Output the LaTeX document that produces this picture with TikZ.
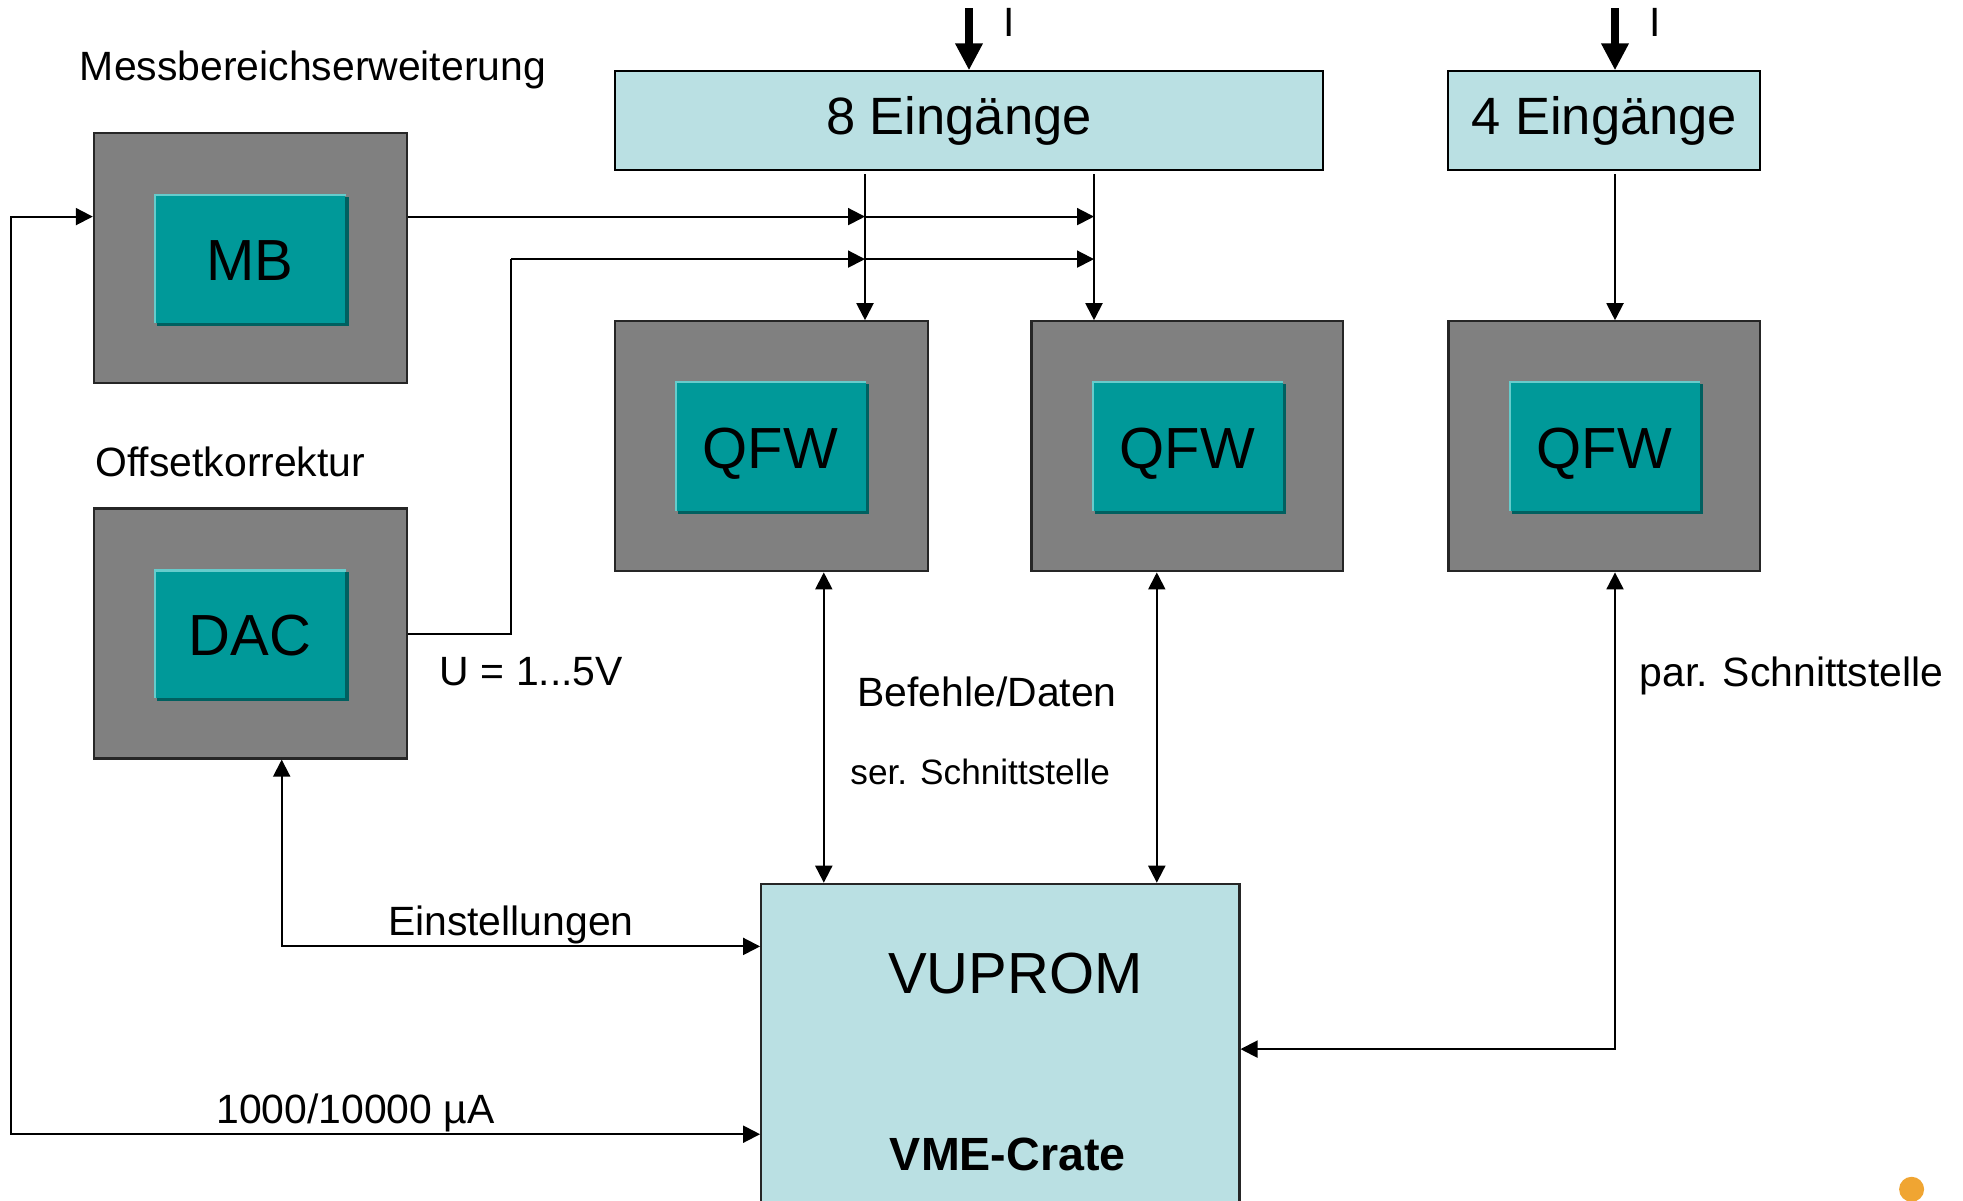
\documentclass[tikz,border=0pt]{standalone}
\usepackage{fontspec}
\setmainfont{Liberation Sans}
\usetikzlibrary{arrows.meta}
\definecolor{boxgray}{RGB}{128,128,128}
\definecolor{tealmain}{RGB}{0,153,153}
\definecolor{tealhi}{RGB}{102,204,204}
\definecolor{tealsh}{RGB}{0,96,96}
\definecolor{lcyan}{RGB}{186,224,227}
\definecolor{dotorange}{RGB}{240,165,50}
\newcommand\tealdeco[1]{%
  \fill[tealsh] ([shift={(3,3)}]#1.north west) rectangle ([shift={(3,3)}]#1.south east);
}
\newcommand\tealhilite[1]{%
  \draw[tealhi, line width=2.2pt] ([shift={(1.1,0)}]#1.south west) -- ([shift={(1.1,1.1)}]#1.north west) -- ([shift={(0,1.1)}]#1.north east);
}
\begin{document}
\begin{tikzpicture}[x=1pt,y=-1pt,
  outerbox/.style={draw=black!85, line width=2.2pt, fill=boxgray, minimum width=313pt, minimum height=250pt, inner sep=0pt},
  innerbox/.style={fill=tealmain, minimum width=191pt, minimum height=129pt, inner sep=0pt, text height=44pt, text depth=1pt, font=\fontsize{58}{64}\selectfont},
  qfwbox/.style={innerbox, minimum height=130pt, text height=47pt, text depth=1pt},
  inbox/.style={draw=black, line width=2pt, fill=lcyan, inner sep=0pt, minimum height=99pt, font=\fontsize{52.5}{60}\selectfont},
  conn/.style={line width=2pt, -{Triangle[length=17pt,width=17pt]}},
  biconn/.style={line width=2pt, {Triangle[length=17pt,width=17pt]}-{Triangle[length=17pt,width=17pt]}},
  plain/.style={line width=2pt},
  thickarrow/.style={line width=8pt, -{Triangle[length=27pt,width=26pt]}},
  lbl/.style={font=\fontsize{40.9}{48}\selectfont, inner sep=0pt},
  smalllbl/.style={font=\fontsize{35.2}{42}\selectfont, inner sep=0pt}
]
\clip (0,0) rectangle (1963,1200);
\fill[white] (0,0) rectangle (1963,1200);

% outer grey boxes
\node[outerbox] (mb) at (250.4,257.9) {};
\node[outerbox] (dac) at (250.4,633.5) {};
\node[outerbox] (q1) at (771.2,446.3) {};
\node[outerbox, minimum width=311.7pt] (q2) at (1187.4,446.3) {};
\node[outerbox, minimum width=311.8pt] (q3) at (1604.3,446.3) {};

% inner teal boxes: shadows first
\path (249.8,258.5) coordinate (cmbi) (249.8,633.5) coordinate (cdaci)
      (770.5,445.7) coordinate (cq1i) (1187.4,445.7) coordinate (cq2i) (1604.3,445.7) coordinate (cq3i);
\node[innerbox, fill=none] (mbs) at (cmbi) {};
\node[innerbox, fill=none, minimum height=128pt] (dacs) at (cdaci) {};
\node[qfwbox, fill=none] (q1s) at (cq1i) {};
\node[qfwbox, fill=none] (q2s) at (cq2i) {};
\node[qfwbox, fill=none] (q3s) at (cq3i) {};
\tealdeco{mbs}\tealdeco{dacs}\tealdeco{q1s}\tealdeco{q2s}\tealdeco{q3s}
\node[innerbox] (mbi) at (cmbi) {MB};
\node[innerbox, minimum height=128pt] (daci) at (cdaci) {DAC};
\node[qfwbox] (q1i) at (cq1i) {QFW};
\node[qfwbox] (q2i) at (cq2i) {QFW};
\node[qfwbox] (q3i) at (cq3i) {QFW};
\tealhilite{mbi}\tealhilite{daci}\tealhilite{q1i}\tealhilite{q2i}\tealhilite{q3i}

% input boxes
\node[inbox, minimum width=708.6pt] (e8) at (969,120.8) {\hspace*{-20pt}8 Eingänge};
\node[inbox, minimum width=311.8pt] (e4) at (1604.3,120.8) {4 Eingänge};

% VUPROM
\node[draw=black!85, line width=2.2pt, fill=lcyan, minimum width=478.2pt, minimum height=340pt, inner sep=0pt] (vu) at (1000.3,1053.8) {};
\node[font=\fontsize{58}{64}\selectfont, inner sep=0pt] (vut) at (1015.3,973.5) {VUPROM};
\node[font=\fontsize{46.6}{54}\selectfont\bfseries, inner sep=0pt] (vme) at (1007.8,1154) {VME-Crate};

% labels
\node[lbl] (lmess) at (313,70) {Messbereichserweiterung};
\node[lbl] (loff) at (230.3,461.5) {Offsetkorrektur};
\node[lbl] (lu) at (531.4,672) {U = 1...5V};
\node[lbl] (lbef) at (987.1,692) {Befehle/Daten};
\node[smalllbl] (lser) at (980.2,772) {ser. Schnittstelle};
\node[lbl] (lpar) at (1791.5,676) {par. Schnittstelle};
\node[lbl] (lein) at (510.8,925) {Einstellungen};
\node[lbl] (lmu) at (355.5,1113) {1000/10000 µA};
\node[lbl] (li8) at (1009,22.5) {I};
\node[lbl] (li4) at (1655,22.5) {I};

% coordinates for connectors
\coordinate (i8) at (969,8);
\coordinate (i4) at (1615,8);
\coordinate (t1) at (865,174);
\coordinate (t2) at (1094,174);
\coordinate (t4) at (1615,174);
\coordinate (h1) at (0,216.6);
\coordinate (a1) at (865,216.6);
\coordinate (b1) at (1094,216.6);
\coordinate (a2) at (865,259.1);
\coordinate (b2) at (1094,259.1);
\coordinate (ud) at (510.8,633.5);
\coordinate (uu) at (510.8,259.1);
\coordinate (x1) at (823.8,0);
\coordinate (x2) at (1156.8,0);
\coordinate (p3) at (1615,1049.1);
\coordinate (pd) at (281.7,946.4);
\coordinate (ml) at (11.3,216.6);
\coordinate (mb2) at (11.3,1134.2);

% thick input arrows
\draw[thickarrow] (i8) -- (i8 |- e8.north);
\draw[thickarrow] (i4) -- (i4 |- e4.north);

% inputs to QFW
\draw[conn] (t1) -- (t1 |- q1.north);
\draw[conn] (t2) -- (t2 |- q2.north);
\draw[conn] (t4) -- (t4 |- q3.north);

% MB output
\draw[conn] (mb.east |- h1) -- (a1);
\draw[conn] (a1) -- (b1);
% DAC output
\draw[plain] (dac.east |- ud) -- (ud) -- (uu);
\draw[conn] (uu) -- (a2);
\draw[conn] (a2) -- (b2);

% QFW <-> VUPROM
\draw[biconn] (q1.south -| x1) -- (vu.north -| x1);
\draw[biconn] (q2.south -| x2) -- (vu.north -| x2);
\draw[biconn] (q3.south -| p3) -- (p3) -- (vu.east |- p3);

% DAC <-> VUPROM
\draw[biconn] (dac.south -| pd) -- (pd) -- (vu.west |- pd);

% MB <-> VUPROM
\draw[biconn] (mb.west |- ml) -- (ml) -- (mb2) -- (vu.west |- mb2);

% orange dot
\fill[dotorange] (1911.6,1189.3) circle (12.5);
\end{tikzpicture}
\end{document}
